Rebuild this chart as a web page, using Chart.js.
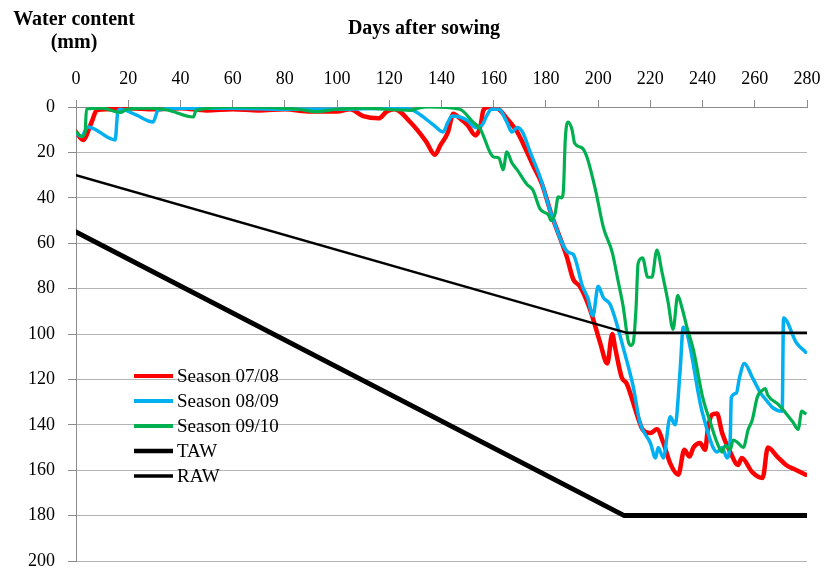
<!DOCTYPE html>
<html>
<head>
<meta charset="utf-8">
<script src="https://cdn.jsdelivr.net/npm/chart.js@4"></script>
<style>
  html, body { margin: 0; padding: 0; background: #fff; }
  canvas { display: block; }
</style>
</head>
<body>
<canvas id="chart" width="827" height="571"></canvas>
<script>
// days after sowing / water content (mm)
const season0708Days = [0, 2.7, 6, 8, 12, 20, 30, 40, 50, 60, 70, 80, 90, 100, 105, 110, 116, 119, 122, 128, 134, 137.5, 139.5, 142.5, 144.5, 147, 150, 153, 155, 156, 158, 162, 165, 169, 172.8, 175, 178.5, 182, 188, 190.5, 193, 197, 200.8, 203.5, 205.4, 206.5, 209, 211, 215, 217, 220, 222.5, 225, 227.6, 230.7, 233, 235, 236.5, 239, 241, 242, 243.6, 245.5, 247.5, 250.6, 253.6, 255, 259, 263, 265, 268.6, 272, 276, 279.5];
const season0708Water = [11, 14.5, 6.6, 1.3, 1, 0.5, 1, 0.5, 1.5, 1, 1.5, 1, 2, 2, 1, 4, 5, 2, 1, 6.6, 15, 21, 17, 11, 3, 5, 8, 12.5, 8, 1.5, 0, 1, 5, 11, 20, 25.6, 34, 47, 66, 76, 79, 89.5, 104, 113, 100, 106, 119, 122, 136, 142, 143.6, 142, 148, 157, 162, 151, 154, 150, 148, 151, 142, 135.6, 135, 143.6, 152, 157.7, 154.6, 160.8, 163.4, 150, 154, 157.7, 160, 162];

const season0809Days = [0, 2, 4.6, 15, 16, 17, 23, 29.5, 31.5, 40, 60, 80, 100, 120, 128, 132, 137, 140.6, 142.5, 144, 147, 150, 153, 155.5, 157.5, 159, 162, 165, 167, 169, 171, 174, 177.8, 182, 188.5, 190.5, 194, 196, 198, 200, 202, 204.6, 207, 209.6, 213.4, 216, 220, 222, 223, 225, 227.6, 229.5, 231.4, 232.6, 240, 245.6, 247.5, 249.4, 250.6, 251, 253, 254, 256, 259, 262, 265, 267, 270.5, 271, 276, 279.5];
const season0809Water = [11.5, 13, 8.8, 14.5, 2.2, 1, 3.5, 6.6, 1.3, 0.5, 0.5, 1, 1, 0.5, 1, 3.5, 8, 11, 6.6, 4, 4.4, 6, 9, 8, 3.5, 1, 1, 6.6, 11, 9, 11, 20, 31, 47, 64, 65, 79, 84, 92, 79, 84, 87, 95, 106, 123, 139, 148, 154.6, 150, 154.6, 136.5, 140, 116, 97, 135, 152, 150, 154.6, 146, 128, 126, 120, 113, 119, 125.6, 130, 132.6, 134, 93, 104, 108];

const season0910Days = [0, 2.3, 3.5, 4, 10, 17, 19.5, 28, 35, 45, 46, 60, 85, 92, 100, 110, 128, 131, 135, 147, 152, 155, 158.6, 160, 162, 163.6, 165, 167, 169, 172.7, 175, 177.8, 181, 182, 183.5, 184.7, 186, 186.7, 187.4, 188.5, 190, 191, 193.8, 195.7, 199, 202, 205.4, 207.7, 209.6, 211.5, 212.5, 213.4, 214.5, 215.3, 217, 219, 220.6, 222.5, 224.5, 226.8, 228.7, 230.5, 232, 234, 236.5, 240, 243, 245.6, 247.5, 248.7, 250.6, 251.7, 253.6, 255.6, 257.5, 259, 261, 263, 264, 265, 269, 274.7, 276.6, 278, 279.3];
const season0910Water = [11, 13, 11, 1, 0.5, 2.4, 1, 0.5, 1.3, 4.4, 1.5, 0, 1, 2, 1, 0.5, 1.5, 0.5, 0, 1, 6.6, 10, 20, 22, 22.5, 27.7, 19.8, 24.7, 27.7, 34, 36.6, 45, 47.6, 50, 47, 39.6, 40, 36.6, 14.5, 6.6, 10, 16, 18, 22, 36.6, 53, 64, 77, 88, 103, 105, 104, 89, 69, 66.5, 75, 75, 63, 73, 86, 98, 83, 88, 97, 107, 127.7, 139, 148, 152, 149, 151, 146.7, 148, 150, 142, 138, 127.7, 124.7, 124, 127, 131, 139, 142, 134, 135];

const tawDays = [0, 210, 280];
const tawWater = [55, 180, 180];
const rawDays = [0, 211, 280];
const rawWater = [30, 99.5, 99.5];

const seriesLabels = ['Season 07/08', 'Season 08/09', 'Season 09/10', 'TAW', 'RAW'];
const xTicksStep = 20;
const yTicksStep = 20;

function toPoints(days, water) {
    return days.map((d, i) => ({ x: d, y: water[i] }));
}

const FONT = "'Liberation Serif', 'Times New Roman', serif";

// legend drawn inside the plot, lower left, like the original
const insideLegend = {
    id: 'insideLegend',
    afterDraw(chart) {
        const ctx = chart.ctx;
        ctx.save();
        ctx.font = '19px ' + FONT;
        ctx.textBaseline = 'middle';
        ctx.fillStyle = '#000';
        chart.data.datasets.forEach((ds, i) => {
            const y = 376 + i * 25;
            ctx.strokeStyle = ds.borderColor;
            ctx.lineWidth = ds.legendWidth;
            ctx.beginPath();
            ctx.moveTo(134, y);
            ctx.lineTo(173, y);
            ctx.stroke();
            ctx.fillText(ds.label, 177, y + 1);
        });
        ctx.restore();
    }
};

const axisTitles = {
    id: 'axisTitles',
    afterDraw(chart) {
        const ctx = chart.ctx;
        ctx.save();
        ctx.font = 'bold 20px ' + FONT;
        ctx.fillStyle = '#000';
        ctx.textAlign = 'center';
        ctx.textBaseline = 'alphabetic';
        ctx.fillText('Water content', 74, 25);
        ctx.fillText('(mm)', 74, 48);
        ctx.fillText('Days after sowing', 424, 34);
        ctx.restore();
    }
};

const colors = ['#ff0000', '#00b0f0', '#00b050', '#000000', '#000000'];

new Chart(document.getElementById('chart'), {
    type: 'line',
    data: {
        datasets: [
            { label: seriesLabels[0], data: toPoints(season0708Days, season0708Water), borderColor: colors[0], borderWidth: 4.5, legendWidth: 4, order: 4, cubicInterpolationMode: 'monotone' },
            { label: seriesLabels[1], data: toPoints(season0809Days, season0809Water), borderColor: colors[1], borderWidth: 3.5, legendWidth: 4, order: 3, cubicInterpolationMode: 'monotone' },
            { label: seriesLabels[2], data: toPoints(season0910Days, season0910Water), borderColor: colors[2], borderWidth: 3.2, legendWidth: 4, order: 2, cubicInterpolationMode: 'monotone' },
            { label: seriesLabels[3], data: toPoints(tawDays, tawWater), borderColor: colors[3], borderWidth: 5, legendWidth: 4.5, order: 1, tension: 0 },
            { label: seriesLabels[4], data: toPoints(rawDays, rawWater), borderColor: colors[4], borderWidth: 2.5, legendWidth: 3.5, order: 0, tension: 0 }
        ]
    },
    options: {
        responsive: false,
        animation: false,
        layout: { padding: { top: 0, left: 0, right: 20, bottom: 10 } },
        elements: {
            point: { radius: 0, hoverRadius: 0 },
            line: { fill: false, borderCapStyle: 'round', borderJoinStyle: 'round' }
        },
        scales: {
            x: {
                type: 'linear',
                position: 'top',
                min: 0,
                max: 280,
                // fixed box so the plot area lands where the original's does
                afterFit: (s) => { s.height = 107; s.paddingLeft = 0; s.paddingRight = 0; },
                ticks: { stepSize: xTicksStep, color: '#000', font: { family: FONT, size: 18 }, padding: 10, maxRotation: 0 },
                grid: { drawOnChartArea: false, drawTicks: true, tickLength: 7, color: '#8c8c8c' },
                border: { color: '#8c8c8c' }
            },
            y: {
                reverse: true,
                min: 0,
                max: 200,
                afterFit: (s) => { s.width = 76; s.paddingTop = 0; s.paddingBottom = 0; },
                ticks: { stepSize: yTicksStep, color: '#000', font: { family: FONT, size: 18 }, padding: 13 },
                grid: { color: '#b4b4b4', tickLength: 8, tickColor: '#8c8c8c' },
                border: { color: '#8c8c8c' }
            }
        },
        plugins: {
            legend: { display: false },
            tooltip: { enabled: false }
        }
    },
    plugins: [insideLegend, axisTitles]
});
</script>
</body>
</html>
